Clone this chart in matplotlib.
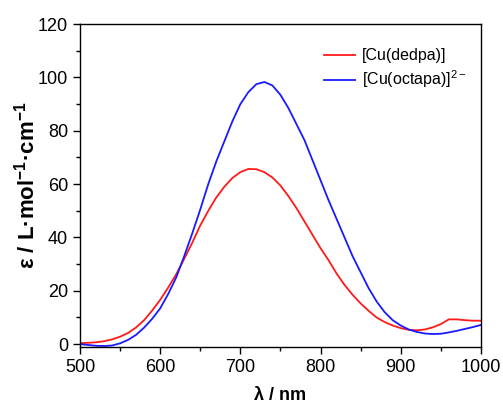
import numpy as np
import matplotlib
matplotlib.use("Agg")
import matplotlib.pyplot as plt
from matplotlib.ticker import MultipleLocator

plt.rcParams['font.family'] = ['Liberation Sans', 'DejaVu Sans']
plt.rcParams['mathtext.fontset'] = 'custom'
plt.rcParams['mathtext.rm'] = 'Liberation Sans'
plt.rcParams['mathtext.bf'] = 'Liberation Sans:bold'

# longitud de onda (nm)
wl = np.arange(500, 1001, 10)

# [Cu(dedpa)]
eps_dedpa = [0.4, 0.5, 0.7, 1.1, 1.8, 2.8, 4.2, 6.3, 9.0, 12.6,
             16.6, 21.2, 26.2, 32.0, 38.0, 44.5, 50.0, 55.0, 59.0, 62.3,
             64.5, 65.7, 65.6, 64.5, 62.5, 59.5, 55.5, 51.0, 46.0, 41.0,
             36.0, 31.5, 26.5, 22.2, 18.5, 15.3, 12.5, 10.0, 8.3, 7.0,
             6.0, 5.4, 5.2, 5.5, 6.3, 7.5, 9.3, 9.3, 9.0, 8.8, 8.8]

# [Cu(octapa)]2-
eps_octapa = [0.0, -0.3, -0.6, -0.7, -0.5, 0.3, 1.6, 3.5, 6.2, 9.5,
              13.4, 18.8, 25.0, 33.0, 41.5, 50.5, 60.0, 68.5, 76.0, 83.5,
              90.0, 94.5, 97.5, 98.3, 97.0, 93.5, 88.5, 82.5, 76.5, 69.0,
              61.5, 54.0, 47.0, 40.0, 33.0, 27.0, 21.0, 16.0, 12.0, 9.0,
              7.0, 5.5, 4.6, 4.0, 3.8, 3.9, 4.4, 5.0, 5.7, 6.4, 7.2]

fig = plt.figure(figsize=(5.03, 4.09), dpi=100)
ax = fig.add_axes([0.159, 0.152, 0.797, 0.789])

ax.plot(wl, eps_dedpa, color='#ff1a1a', lw=1.3, label='[Cu(dedpa)]')
ax.plot(wl, eps_octapa, color='#1a1aff', lw=1.3,
        label='[Cu(octapa)]$^{\\mathregular{2-}}$')

ax.set_xlim(500, 1000)
ax.set_ylim(-1, 120)
ax.xaxis.set_major_locator(MultipleLocator(100))
ax.xaxis.set_minor_locator(MultipleLocator(50))
ax.yaxis.set_major_locator(MultipleLocator(20))
ax.yaxis.set_minor_locator(MultipleLocator(10))
ax.tick_params(which='major', direction='out', length=5, width=1, labelsize=13)
ax.tick_params(which='minor', direction='out', length=3, width=1)
for s in ax.spines.values():
    s.set_linewidth(1)

ax.set_xlabel(r'λ / nm', fontsize=13, fontweight='bold', labelpad=8)
ax.set_ylabel(r'ε / L·mol$^{\mathbf{-1}}$·cm$^{\mathbf{-1}}$', fontsize=16,
              fontweight='bold', labelpad=-1)

ax.legend(loc='upper right', frameon=False, fontsize=11.5, handlelength=2.0,
          handletextpad=0.4, labelspacing=0.35, bbox_to_anchor=(1.0, 0.97))

fig.savefig('out.png', dpi=100)
